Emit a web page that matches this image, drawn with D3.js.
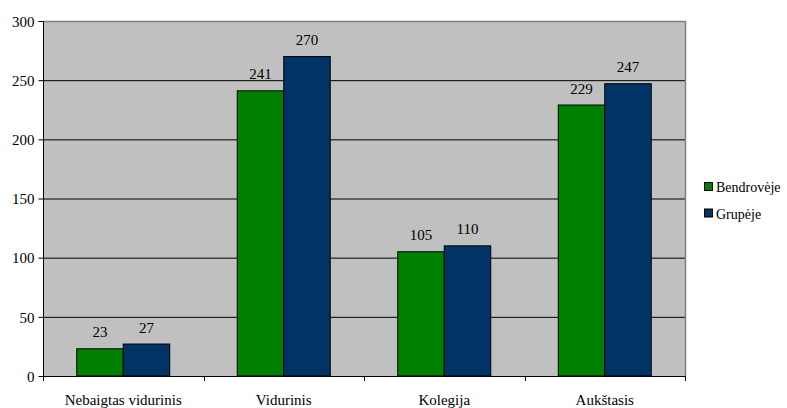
<!DOCTYPE html>
<html><head><meta charset="utf-8">
<script src="https://cdn.jsdelivr.net/npm/d3@7"></script>
<style>body{margin:0;background:#fff}</style>
</head><body><svg id="c" width="787" height="408"></svg>
<script>
const categories = ["Nebaigtas vidurinis", "Vidurinis", "Kolegija", "Aukštasis"];
const seriesNames = ["Bendrovėje", "Grupėje"];
const bendroveje = [23, 241, 105, 229];
const grupeje = [27, 270, 110, 247];
const yTicks = [0, 50, 100, 150, 200, 250, 300];
const colors = ["#008000", "#003366"];
const fam = ["Times New Roman"].map(f => `'${f}'`)[0];

const svg = d3.select("#c");
const L = 43, R = 685, T = 21, B = 376;
const x = d3.scaleBand().domain(categories).range([L, R]).paddingInner(0).paddingOuter(0);
const y = d3.scaleLinear().domain([0, 300]).range([B, T]);
const barW = 46.5;

function serif(sel, size) {
  sel.attr("fill", "#000").style("font-family", fam).style("font-size", size + "px");
}

svg.append("rect").attr("x", L).attr("y", T).attr("width", R - L).attr("height", B - T).attr("fill", "#c0c0c0");
svg.append("g").selectAll("line").data(yTicks.filter(d => d > 0 && d < 300)).join("line")
  .attr("x1", L).attr("x2", R).attr("y1", d => y(d) + 0.5).attr("y2", d => y(d) + 0.5)
  .attr("stroke", "#000").attr("stroke-width", 1);
svg.append("path").attr("d", `M${L},${T + 0.5}H${R + 0.5}V${B}`).attr("fill", "none").attr("stroke", "#808080").attr("stroke-width", 1.5);

const series = [bendroveje, grupeje];
series.forEach((vals, si) => {
  const g = svg.append("g");
  g.selectAll("rect").data(vals).join("rect")
    .attr("x", (d, i) => x(categories[i]) + x.bandwidth() / 2 - barW + si * barW)
    .attr("y", d => y(d))
    .attr("width", barW)
    .attr("height", d => B - y(d))
    .attr("fill", colors[si]).attr("stroke", "#000").attr("stroke-width", 1);
  g.selectAll("text").data(vals).join("text")
    .attr("x", (d, i) => x(categories[i]) + x.bandwidth() / 2 - barW / 2 + si * barW)
    .attr("y", d => y(d) - 11.5)
    .attr("text-anchor", "middle").text(d => d)
    .call(serif, 15);
});

const ya = svg.append("g").attr("transform", `translate(${L + 0.5},0)`)
  .call(d3.axisLeft(y).tickValues(yTicks).tickSize(5).tickPadding(4));
ya.attr("font-family", null).attr("font-size", null);
ya.select(".domain").attr("d", `M-5,${T + 0.5}H0V${B}`).attr("stroke", "#000");
ya.selectAll("text").call(serif, 15).attr("dy", "0.35em");
ya.selectAll(".tick line").attr("stroke", "#000");

const xa = svg.append("g").attr("transform", `translate(0,${B + 0.5})`)
  .call(d3.axisBottom(x).tickSize(0).tickPadding(18));
xa.attr("font-family", null).attr("font-size", null);
xa.select(".domain").attr("d", `M${L},0H${R}`).attr("stroke", "#000");
xa.selectAll("text").call(serif, 15);
const bounds = categories.map(c => x(c)).concat([R]);
svg.append("g").selectAll("line").data(bounds).join("line")
  .attr("x1", d => Math.round(d) + 0.5).attr("x2", d => Math.round(d) + 0.5)
  .attr("y1", B).attr("y2", B + 5).attr("stroke", "#000");

const lg = svg.append("g");
seriesNames.forEach((n, i) => {
  lg.append("rect").attr("x", 704.5).attr("y", 182.5 + i * 26.5).attr("width", 8).attr("height", 8)
    .attr("fill", colors[i]).attr("stroke", "#000");
  lg.append("text").attr("x", 716).attr("y", 192 + i * 26.5).text(n).call(serif, 14);
});
</script></body></html>
